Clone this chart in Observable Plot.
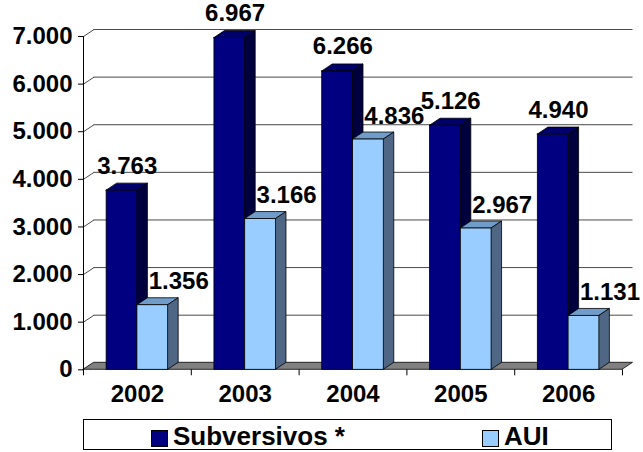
<!DOCTYPE html>
<html>
<head>
<meta charset="utf-8">
<script src="https://cdn.jsdelivr.net/npm/d3@7"></script>
<script src="https://cdn.jsdelivr.net/npm/@observablehq/plot@0.6"></script>
<style>
  html, body { margin: 0; padding: 0; background: #fff; }
  body { width: 643px; height: 452px; position: relative; overflow: hidden; font-family: "Liberation Sans", Arial, sans-serif; }
  #legend { position: absolute; left: 83px; top: 419px; width: 527px; height: 29px; border: 1px solid #000; background: #fff; }
  .sw { position: absolute; top: 10px; width: 15px; height: 15px; border: 1px solid #000; }
  .lt { position: absolute; top: 0px; font-weight: bold; font-size: 26px; line-height: 32px; color: #000; }
</style>
</head>
<body>
<div id="chart"></div>
<div id="legend"></div>
<script>
// ---- data ----
const years = ["2002", "2003", "2004", "2005", "2006"];
const subversivos = [3763, 6967, 6266, 5126, 4940];
const aui = [1356, 3166, 4836, 2967, 1131];
const seriesNames = ["Subversivos *", "AUI"];
const yTicks = [0, 1000, 2000, 3000, 4000, 5000, 6000, 7000];

// ---- layout / style ----
const W = 643, H = 412;
const mL = 83, mR = 21, mT = 36, mB = 42.7;
const yMax = 7000;
const depthPx = 10.5, risePx = 7;
const n = years.length;
const dX = depthPx * n / (W - mL - mR);           // depth in x units
const dY = risePx * yMax / (H - mT - mB);          // rise in y units
const gap = 0.2145, bw = 0.2855;
const colors = {
  dark: {front: "#000080", side: "#00003f", top: "#00006a"},
  light: {front: "#99ccff", side: "#4f6684", top: "#6f9cc8"}
};
const fmt = v => d3.format(",")(v).replace(/,/g, ".");

// ---- build geometry from data ----
const bars = [];
years.forEach((yr, i) => {
  [[subversivos[i], "dark", 0], [aui[i], "light", 1]].forEach(([v, key, k]) => {
    const x1 = i + gap + k * bw, x2 = x1 + bw;
    bars.push({id: yr + key, key, v, x1, x2, k, year: yr});
  });
});
const sides = bars.flatMap(b => [
  {id: b.id, x: b.x2, y1: 0, y2: b.v},
  {id: b.id, x: b.x2 + dX, y1: dY, y2: b.v + dY}
]);
const tops = bars.flatMap(b => [
  {id: b.id, x: b.x1, y1: b.v, y2: b.v},
  {id: b.id, x: b.x1 + dX, y1: b.v, y2: b.v + dY},
  {id: b.id, x: b.x2, y1: b.v, y2: b.v + dY},
  {id: b.id, x: b.x2 + dX, y1: b.v + dY, y2: b.v + dY}
]);
const floor = [
  {x: 0, y1: 0, y2: 0},
  {x: dX, y1: 0, y2: dY},
  {x: n, y1: 0, y2: dY},
  {x: n + dX, y1: dY, y2: dY}
];
const grid = yTicks.filter(t => t > 0);
const gridLines = grid.map(g => ({x1: dX, x2: n + dX, y: g + dY}));
const wallLines = grid.map(g => ({x1: 0, x2: dX, y1: g, y2: g + dY}));
const labels = bars.map(b => ({x: (b.x1 + b.x2) / 2, y: b.v, text: fmt(b.v), k: b.k}));
const yearLabels = years.map((d, i) => ({x: i + 0.5, y: 0, text: d}));
const bounds = d3.range(0, n + 1);

const marks = [
  Plot.ruleY(gridLines, {y: "y", x1: "x1", x2: "x2", stroke: "#4a4a4a", strokeWidth: 1}),
  Plot.link(wallLines, {x1: "x1", y1: "y1", x2: "x2", y2: "y2", stroke: "#4a4a4a", strokeWidth: 1}),
  Plot.areaY(floor, {x: "x", y1: "y1", y2: "y2", fill: "#808080", stroke: "#000", strokeWidth: 0.8}),
  Plot.ruleX([{x: 0, y1: 0, y2: yMax}], {x: "x", y1: "y1", y2: "y2", stroke: "#000", strokeWidth: 1})
];
bars.forEach(b => {
  const col = colors[b.key];
  marks.push(
    Plot.areaY(tops.filter(d => d.id === b.id), {x: "x", y1: "y1", y2: "y2", fill: col.top, stroke: "#000", strokeWidth: 0.8}),
    Plot.areaY(sides.filter(d => d.id === b.id), {x: "x", y1: "y1", y2: "y2", fill: col.side, stroke: "#000", strokeWidth: 0.8}),
    Plot.rect([b], {x1: "x1", x2: "x2", y1: () => 0, y2: "v", fill: col.front, stroke: "#000", strokeWidth: 0.8})
  );
});
marks.push(
  Plot.axisY({ticks: yTicks, tickFormat: fmt, tickSize: 5, tickPadding: 6, fontSize: 24, fontWeight: "bold", fill: "#000", stroke: "#000"}),
  Plot.axisX({ticks: bounds, tickFormat: () => "", tickSize: 6, stroke: "#000"}),
  Plot.text(yearLabels, {x: "x", y: "y", text: "text", dy: 25, fontSize: 24, fontWeight: "bold", fill: "#000", lineAnchor: "middle"}),
  Plot.text(labels.filter(d => d.k === 0), {x: "x", y: "y", text: "text", dx: depthPx / 2, dy: -17, fontSize: 24, fontWeight: "bold", fill: "#000", lineAnchor: "bottom"}),
  Plot.text(labels.filter(d => d.k === 1), {x: "x", y: "y", text: "text", dx: 26, dy: -16, fontSize: 24, fontWeight: "bold", fill: "#000", lineAnchor: "bottom"})
);

const chart = Plot.plot({
  width: W, height: H,
  marginLeft: mL, marginRight: mR, marginTop: mT, marginBottom: mB,
  style: {fontFamily: "'Liberation Sans', Arial, sans-serif", background: "#fff", overflow: "visible"},
  x: {type: "linear", domain: [0, n], axis: null},
  y: {type: "linear", domain: [0, yMax], axis: null},
  marks
});
document.getElementById("chart").appendChild(chart);

// legend
const legend = document.getElementById("legend");
const items = [
  {name: seriesNames[0], color: colors.dark.front, left: 67},
  {name: seriesNames[1], color: colors.light.front, left: 398}
];
items.forEach(it => {
  const s = document.createElement("div");
  s.className = "sw"; s.style.left = it.left + "px"; s.style.background = it.color;
  legend.appendChild(s);
  const t = document.createElement("div");
  t.className = "lt"; t.style.left = (it.left + 22) + "px"; t.textContent = it.name;
  legend.appendChild(t);
});
</script>
</body>
</html>
